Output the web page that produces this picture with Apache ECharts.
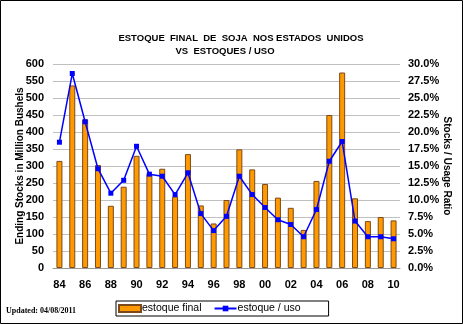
<!DOCTYPE html>
<html>
<head>
<meta charset="utf-8">
<script src="https://cdn.jsdelivr.net/npm/echarts@6/dist/echarts.min.js"></script>
<style>
html,body{margin:0;padding:0;background:#fff;}
#c{width:463px;height:324px;}
</style>
</head>
<body>
<div id="c"></div>
<script>
const years = ['84','85','86','87','88','89','90','91','92','93','94','95','96','97','98','99','00','01','02','03','04','05','06','07','08','09','10'];
const endingStocks = [315,537,437,303,183,239,330,277,292,210,335,184,131,200,349,290,247,207,177,112,256,450,575,205,138,150,140];
const stocksUsage = [18.5,28.6,21.5,14.6,11.0,12.9,17.9,13.8,13.5,10.8,14.0,8.0,5.5,7.6,13.5,10.8,8.9,7.1,6.4,4.6,8.6,15.7,18.6,6.9,4.6,4.6,4.3];

const chart = echarts.init(document.getElementById('c'));
const F = 'Liberation Sans, Arial, sans-serif';
const titleStyle = {fontFamily: F, fontSize: 9.5, fontWeight: 'bold', color: '#000'};
chart.setOption({
  animation: false,
  backgroundColor: '#fff',
  title: [{
    text: 'ESTOQUE  FINAL  DE  SOJA  NOS ESTADOS  UNIDOS',
    left: 241, textAlign: 'center', top: 33, padding: 0,
    textStyle: titleStyle
  }, {
    text: 'VS  ESTOQUES / USO',
    left: 225, textAlign: 'center', top: 46, padding: 0,
    textStyle: titleStyle
  }],
  grid: {left: 53, right: 63, top: 64, bottom: 56},
  legend: {
    left: 116, top: 301, width: 212,
    padding: [2, 28, 2, 2],
    itemGap: 12, itemWidth: 22, itemHeight: 7,
    borderColor: '#000', borderWidth: 1,
    textStyle: {fontFamily: F, fontSize: 10.5, color: '#000', padding: [0,0,0,-4]},
    data: [{name: 'estoque final', icon: 'rect'}, {name: 'estoque / uso'}]
  },
  xAxis: {
    type: 'category', data: years,
    axisLine: {lineStyle: {color: '#999', width: 1}},
    axisTick: {length: 4, lineStyle: {color: '#888'}},
    axisLabel: {interval: 1, fontFamily: F, fontSize: 11, fontWeight: 'bold', color: '#000', margin: 11}
  },
  yAxis: [{
    type: 'value', min: 0, max: 600, interval: 50,
    name: 'Ending Stocks in Million Bushels', nameLocation: 'middle', nameGap: 28, nameMoveOverlap: false,
    nameTextStyle: {fontFamily: F, fontSize: 10, fontWeight: 'bold', color: '#000'},
    axisLine: {show: false}, axisTick: {show: false},
    axisLabel: {fontFamily: F, fontSize: 11, fontWeight: 'bold', color: '#000', margin: 9},
    splitLine: {lineStyle: {color: '#c0c0c0', width: 1}}
  }, {
    type: 'value', min: 0, max: 30, interval: 2.5, position: 'right',
    name: 'Stocks / Usage Ratio', nameLocation: 'middle', nameGap: 42, nameRotate: -90, nameMoveOverlap: false,
    nameTextStyle: {fontFamily: F, fontSize: 10, fontWeight: 'bold', color: '#000'},
    axisLine: {show: false}, axisTick: {show: false},
    axisLabel: {fontFamily: F, fontSize: 11, fontWeight: 'bold', color: '#000', margin: 8,
      formatter: v => v.toFixed(1) + '%'},
    splitLine: {show: false}
  }],
  series: [{
    name: 'estoque final', type: 'bar', data: endingStocks, yAxisIndex: 0,
    barWidth: 6,
    itemStyle: {color: '#FF9900', borderColor: '#7a4a1a', borderWidth: 1}
  }, {
    name: 'estoque / uso', type: 'line', data: stocksUsage, yAxisIndex: 1,
    symbol: 'rect', symbolSize: 5,
    lineStyle: {color: '#0000FF', width: 1.5},
    itemStyle: {color: '#0000FF'}
  }],
  graphic: [{
    type: 'rect', shape: {x: 0.5, y: 0.5, width: 462, height: 323},
    style: {fill: 'none', stroke: '#000', lineWidth: 1}, silent: true
  }, {
    type: 'text', left: 6, top: 307,
    style: {text: 'Updated: 04/08/2011', font: 'bold 8px "Liberation Serif", serif', fill: '#000'}
  }]
});
</script>
</body>
</html>
